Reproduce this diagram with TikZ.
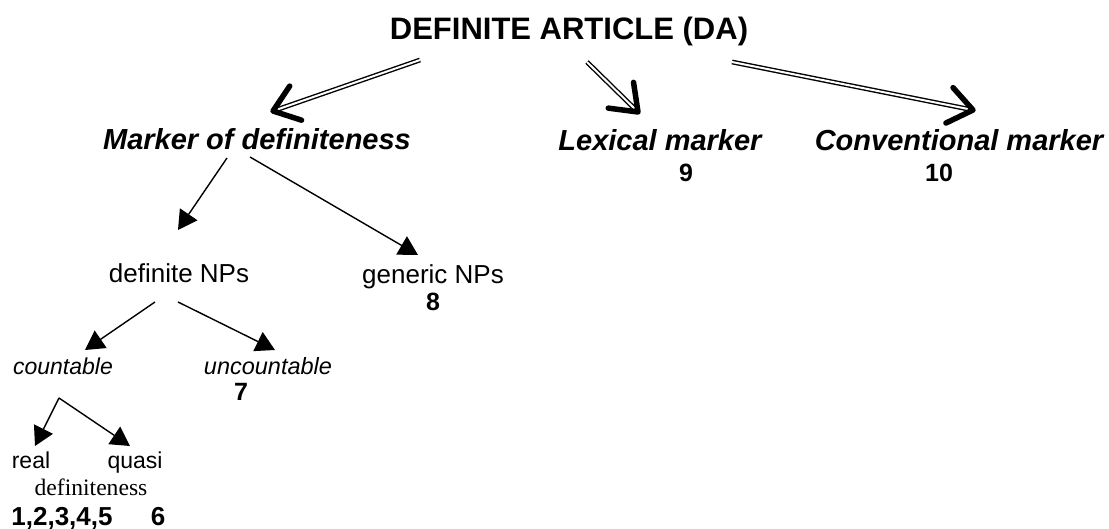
\documentclass[tikz,border=0pt]{standalone}
\usepackage{fontspec}
\setmainfont{Liberation Sans}
\newfontfamily\tnr{Liberation Serif}
\usetikzlibrary{arrows.meta,calc}
\tikzset{
  lbl/.style={anchor=base,inner sep=0pt},
  dbl/.style={draw=black,double=white,line width=1.4pt,double distance=2pt,shorten >=2pt},
  chev/.style={line width=5.5pt,line cap=round,line join=round},
  thin/.style={line width=1.4pt,-{Triangle[length=19pt,width=21pt]}},
}
\newcommand{\headat}[2]{\draw[chev] ($(#1)!30pt!37:(#2)$) -- (#1) -- ($(#1)!30pt!-37:(#2)$);}
\begin{document}
\begin{tikzpicture}[x=1pt,y=-1pt]
\useasboundingbox (0,0) rectangle (1109,529);
% labels
\node[lbl,font=\fontsize{31}{36}\selectfont\bfseries] (title) at (569,40) {DEFINITE ARTICLE (DA)};
\node[lbl,font=\fontsize{29}{34}\selectfont\bfseries\itshape] (mark) at (257,150) {Marker of definiteness};
\node[lbl,font=\fontsize{29}{34}\selectfont\bfseries\itshape] (lex) at (660,151) {Lexical marker};
\node[lbl,font=\fontsize{29}{34}\selectfont\bfseries\itshape] (conv) at (959,151) {Conventional marker};
\node[lbl,font=\fontsize{25}{30}\selectfont\bfseries] (n9) at (686,182) {9};
\node[lbl,font=\fontsize{25}{30}\selectfont\bfseries] (n10) at (939,182) {10};
\node[lbl,font=\fontsize{26}{31}\selectfont] (defnp) at (179,283) {definite NPs};
\node[lbl,font=\fontsize{26}{31}\selectfont] (gennp) at (433,284) {generic NPs};
\node[lbl,font=\fontsize{25}{30}\selectfont\bfseries] (n8) at (433,311) {8};
\node[lbl,font=\fontsize{23}{28}\selectfont\itshape] (count) at (63,375) {countable};
\node[lbl,font=\fontsize{23.5}{28}\selectfont\itshape] (uncount) at (268,375) {uncountable};
\node[lbl,font=\fontsize{25}{30}\selectfont\bfseries] (n7) at (241,401) {7};
\node[lbl,font=\fontsize{23}{28}\selectfont] (real) at (31,468) {real};
\node[lbl,font=\fontsize{23}{28}\selectfont] (quasi) at (135,468) {quasi};
\node[lbl,font=\fontsize{23.6}{28}\selectfont\tnr] (defin) at (91,495) {definiteness};
\node[lbl,font=\fontsize{26}{31}\selectfont\bfseries] (n15) at (62,525) {1,2,3,4,5};
\node[lbl,font=\fontsize{26}{31}\selectfont\bfseries] (n6) at (158,525) {6};
% connector end points
\coordinate (tA) at (420,60);  \coordinate (hA) at (273,111);
\coordinate (tB) at (587,62);  \coordinate (hB) at (638,112);
\coordinate (tC) at (732,62);  \coordinate (hC) at (973,110);
\coordinate (mk1) at (227,158); \coordinate (mk1e) at (178,230);
\coordinate (mk2) at (250,157); \coordinate (mk2e) at (418,255);
\coordinate (dn1) at (155,302); \coordinate (dn1e) at (85,350);
\coordinate (dn2) at (178,302); \coordinate (dn2e) at (275,350);
\coordinate (cv) at (59,398); \coordinate (cve1) at (35,446); \coordinate (cve2) at (130,446);
% double arrows
\draw[dbl] (tA) -- (hA); \headat{hA}{tA}
\draw[dbl] (tB) -- (hB); \headat{hB}{tB}
\draw[dbl] (tC) -- (hC); \headat{hC}{tC}
% thin arrows
\draw[thin] (mk1) -- (mk1e);
\draw[thin] (mk2) -- (mk2e);
\draw[thin] (dn1) -- (dn1e);
\draw[thin] (dn2) -- (dn2e);
\draw[thin] (cv) -- (cve1);
\draw[thin] (cv) -- (cve2);
\end{tikzpicture}
\end{document}
